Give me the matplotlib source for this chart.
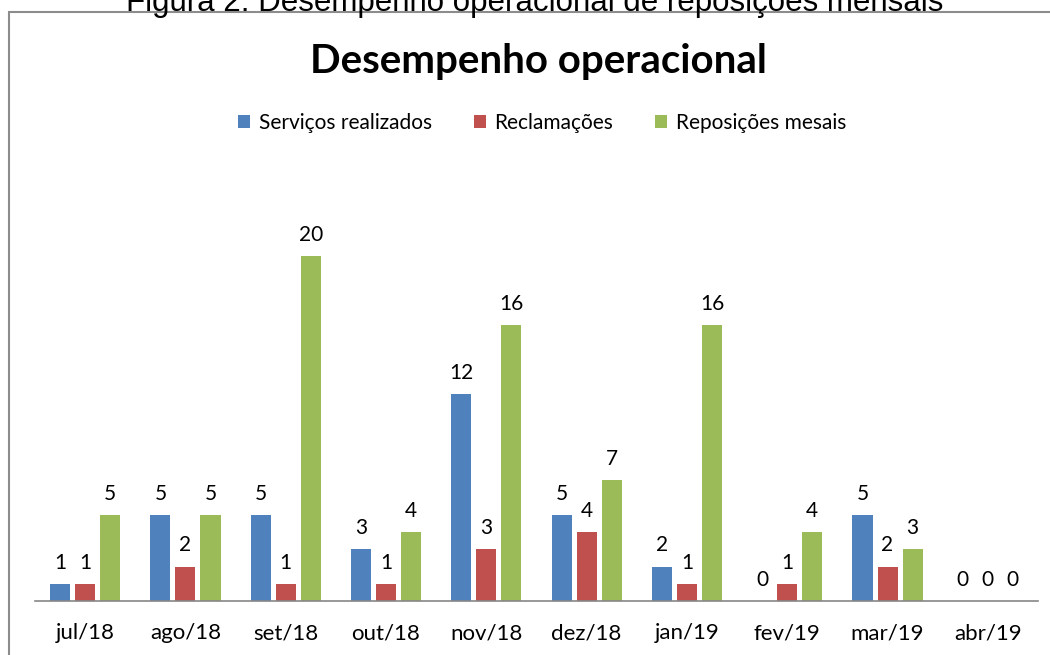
import matplotlib.pyplot as plt
import numpy as np
from matplotlib.patches import Rectangle

# dados do gráfico
meses = ["jul/18", "ago/18", "set/18", "out/18", "nov/18",
         "dez/18", "jan/19", "fev/19", "mar/19", "abr/19"]
servicos = [1, 5, 5, 3, 12, 5, 2, 0, 5, 0]
reclamacoes = [1, 2, 1, 1, 3, 4, 1, 1, 2, 0]
reposicoes = [5, 5, 20, 4, 16, 7, 16, 4, 3, 0]

plt.rcParams['font.family'] = ['Lato', 'DejaVu Sans']

fig = plt.figure(figsize=(10.5, 6.55), dpi=100)
W, H = 1050, 655

# moldura do gráfico (Excel)
fig.patches.append(Rectangle((9 / W, -0.1), 1.2, 1.1 - 12 / H,
                             transform=fig.transFigure, fill=False,
                             edgecolor="#8c8c8c", lw=1.5))

# legenda da figura (cortada no topo)
fig.text(535 / W, 1 - 11 / H, "Figura 2: Desempenho operacional de reposições mensais",
         family="Liberation Sans", fontsize=22.5, ha="center", va="baseline")

ax = fig.add_axes([35 / W, 54 / H, 1003 / W, 431 / H])

x = np.arange(len(meses))
w = 0.2
series = [(servicos, "#4F81BD", "Serviços realizados"),
          (reclamacoes, "#C0504D", "Reclamações"),
          (reposicoes, "#9BBB59", "Reposições mesais")]

for i, (vals, cor, nome) in enumerate(series):
    b = ax.bar(x + (i - 1) * 0.25, vals, w, color=cor, label=nome)
    ax.bar_label(b, padding=8, fontsize=15)

ax.set_xlim(-0.5, len(meses) - 0.5)
ax.set_ylim(0, 25)
ax.set_xticks(x)
ax.set_xticklabels(meses, fontsize=16)
ax.tick_params(axis="x", length=0, pad=16)
ax.set_yticks([])
for s in ["top", "left", "right"]:
    ax.spines[s].set_visible(False)
ax.spines["bottom"].set_color("#868686")
ax.spines["bottom"].set_linewidth(1.2)

fig.text(538 / W, 1 - 61 / H, "Desempenho operacional", fontsize=29,
         fontweight="bold", ha="center", va="center")

fig.legend(loc="center", bbox_to_anchor=(542 / W, 1 - 123 / H), ncol=3,
           frameon=False, fontsize=15, handlelength=0.6, handleheight=0.6,
           handletextpad=0.4, columnspacing=2.0)

fig.savefig("out.png", dpi=100)
